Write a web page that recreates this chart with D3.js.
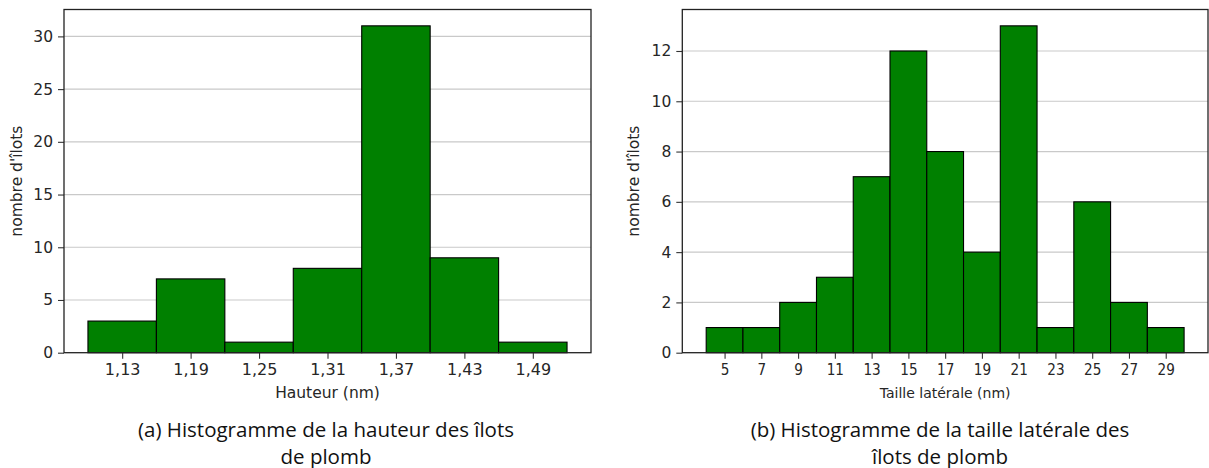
<!DOCTYPE html>
<html>
<head>
<meta charset="utf-8">
<script src="https://cdn.jsdelivr.net/npm/d3@7/dist/d3.min.js"></script>
<style>
  html, body { margin: 0; padding: 0; background: #fff; }
  svg { display: block; }
  .tick text { fill: #262626; font-family: "DejaVu Sans", sans-serif; }
  .chart-text { font-family: "DejaVu Sans", sans-serif; fill: #262626; }
  .caption { font-family: "Open Sans", "Noto Sans", sans-serif; font-size: 20.5px; fill: #111; }
</style>
</head>
<body>
<svg id="fig" width="1209" height="468"></svg>
<script>
// Histogram (a): island height, bins of 0.06 nm
const heightCenters = [1.13, 1.19, 1.25, 1.31, 1.37, 1.43, 1.49];
const heightCounts = [3, 7, 1, 8, 31, 9, 1];
const heightBinWidth = 0.06;
const heightTickLabels = ["1,13", "1,19", "1,25", "1,31", "1,37", "1,43", "1,49"];
const heightYTicks = [0, 5, 10, 15, 20, 25, 30];

// Histogram (b): island lateral size, bins of 2 nm
const sizeCenters = [5, 7, 9, 11, 13, 15, 17, 19, 21, 23, 25, 27, 29];
const sizeCounts = [1, 1, 2, 3, 7, 12, 8, 4, 13, 1, 6, 2, 1];
const sizeBinWidth = 2;
const sizeTickLabels = ["5", "7", "9", "11", "13", "15", "17", "19", "21", "23", "25", "27", "29"];
const sizeYTicks = [0, 2, 4, 6, 8, 10, 12];

const yTitle = "nombre d'îlots";
const captionA = ["(a) Histogramme de la hauteur des îlots", "de plomb"];
const captionB = ["(b) Histogramme de la taille latérale des", "îlots de plomb"];

const svg = d3.select("#fig");

function histogram(opts) {
  const { centers, counts, binWidth, tickLabels, yTicks, left, right, top, bottom,
          xTitle, xTitleSize, xTickScale, yTitleX, caption, captionX } = opts;

  const lo = d3.min(centers) - binWidth / 2;
  const hi = d3.max(centers) + binWidth / 2;
  const pad = (hi - lo) * 0.05;
  const x = d3.scaleLinear().domain([lo - pad, hi + pad]).range([left, right]);
  const y = d3.scaleLinear().domain([0, d3.max(counts) * 1.05]).range([bottom, top]);

  const g = svg.append("g");

  // horizontal grid behind the bars
  g.append("g")
    .selectAll("line")
    .data(yTicks.filter(v => v > 0))
    .join("line")
    .attr("x1", left).attr("x2", right)
    .attr("y1", d => y(d)).attr("y2", d => y(d))
    .attr("stroke", "#c9c9c9")
    .attr("stroke-width", 1.2);

  // bars
  g.append("g")
    .selectAll("rect")
    .data(centers.map((c, i) => ({ c, n: counts[i] })))
    .join("rect")
    .attr("x", d => x(d.c - binWidth / 2))
    .attr("width", d => x(d.c + binWidth / 2) - x(d.c - binWidth / 2))
    .attr("y", d => y(d.n))
    .attr("height", d => y(0) - y(d.n))
    .attr("fill", "#008000")
    .attr("stroke", "#000")
    .attr("stroke-width", 1.1);

  // bottom axis
  const xAxis = d3.axisBottom(x)
    .tickValues(centers)
    .tickFormat((d, i) => tickLabels[i])
    .tickSize(6)
    .tickPadding(5);
  const gx = g.append("g")
    .attr("transform", `translate(0,${bottom})`)
    .call(xAxis);
  gx.select(".domain").remove();
  gx.selectAll(".tick line").attr("stroke", "#333").attr("stroke-width", 1.1);
  gx.selectAll(".tick text")
    .attr("font-family", null)
    .attr("font-size", 16)
    .attr("transform", `scale(${xTickScale},1)`);

  // left axis
  const yAxis = d3.axisLeft(y)
    .tickValues(yTicks)
    .tickSize(6)
    .tickPadding(5);
  const gy = g.append("g")
    .attr("transform", `translate(${left},0)`)
    .call(yAxis);
  gy.select(".domain").remove();
  gy.selectAll(".tick line").attr("stroke", "#333").attr("stroke-width", 1.1);
  gy.selectAll(".tick text")
    .attr("font-size", 15.5);
  gx.attr("font-family", null);
  gy.attr("font-family", null);

  // frame
  g.append("rect")
    .attr("x", left).attr("y", top)
    .attr("width", right - left).attr("height", bottom - top)
    .attr("fill", "none")
    .attr("stroke", "#222")
    .attr("stroke-width", 1.3);

  // axis titles
  g.append("text")
    .attr("class", "chart-text")
    .attr("x", (left + right) / 2)
    .attr("y", 398)
    .attr("text-anchor", "middle")
    .attr("font-size", xTitleSize)
    .text(xTitle);

  g.append("text")
    .attr("class", "chart-text")
    .attr("transform", `translate(${yTitleX},${(top + bottom) / 2}) rotate(-90)`)
    .attr("dy", "0.35em")
    .attr("text-anchor", "middle")
    .attr("font-size", 15.5)
    .text(yTitle);

  // caption under the panel
  const cap = svg.append("text")
    .attr("class", "caption")
    .attr("text-anchor", "middle");
  caption.forEach((line, i) => {
    cap.append("tspan")
      .attr("x", captionX)
      .attr("y", 437 + i * 26.5)
      .text(line);
  });
}

histogram({
  centers: heightCenters, counts: heightCounts, binWidth: heightBinWidth,
  tickLabels: heightTickLabels, yTicks: heightYTicks,
  left: 64, right: 591, top: 9.5, bottom: 352.7,
  xTitle: "Hauteur (nm)", xTitleSize: 15.5, xTickScale: 1,
  yTitleX: 17, caption: captionA, captionX: 326
});

histogram({
  centers: sizeCenters, counts: sizeCounts, binWidth: sizeBinWidth,
  tickLabels: sizeTickLabels, yTicks: sizeYTicks,
  left: 682.3, right: 1208, top: 9.5, bottom: 352.7,
  xTitle: "Taille latérale (nm)", xTitleSize: 14, xTickScale: 0.85,
  yTitleX: 634, caption: captionB, captionX: 940
});
</script>
</body>
</html>
